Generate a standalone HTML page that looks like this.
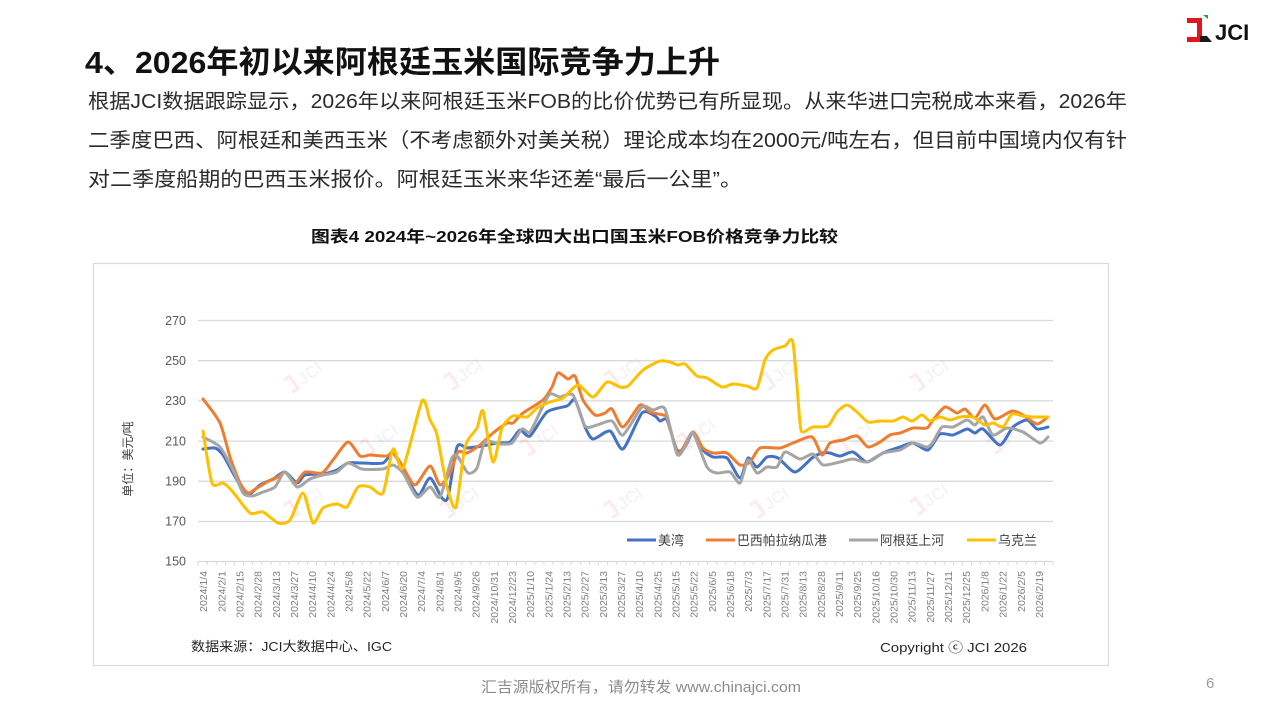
<!DOCTYPE html>
<html>
<head>
<meta charset="utf-8">
<style>
  html,body{margin:0;padding:0;background:#fff;}
  svg{display:block;}
  .cjk{font-family:"Liberation Sans","Noto Sans CJK SC",sans-serif;}
</style>
</head>
<body>
<svg id="chart" width="1280" height="720" viewBox="0 0 1280 720" xmlns="http://www.w3.org/2000/svg">
  <rect width="1280" height="720" fill="#fff"/>

  <!-- Logo -->
  <g>
    <path d="M1187,18 h15 v24 h-15 v-5 h10 v-14 h-10 z" fill="#e3161c"/>
    <path d="M1203,15 l5,0 l0,4 z" fill="#2e9b47"/>
    <path d="M1200,42 l12,0 l-5,-6 l-7,0 z" fill="#1a1a1a"/>
    <text x="1215" y="40" font-family="Liberation Sans, sans-serif" font-weight="bold" font-size="22" fill="#111">JCI</text>
  </g>

  <!-- Title -->
  <text class="cjk" x="85" y="73" font-size="31" font-weight="bold" fill="#111" textLength="635" lengthAdjust="spacingAndGlyphs">4、2026年初以来阿根廷玉米国际竞争力上升</text>

  <!-- Paragraph -->
  <g class="cjk" font-size="20" fill="#2b2b2b">
    <text x="88" y="108" textLength="1039" lengthAdjust="spacingAndGlyphs">根据JCI数据跟踪显示，2026年以来阿根廷玉米FOB的比价优势已有所显现。从来华进口完税成本来看，2026年</text>
    <text x="88" y="147" textLength="1039" lengthAdjust="spacingAndGlyphs">二季度巴西、阿根廷和美西玉米（不考虑额外对美关税）理论成本均在2000元/吨左右，但目前中国境内仅有针</text>
    <text x="88" y="186" textLength="654" lengthAdjust="spacingAndGlyphs">对二季度船期的巴西玉米报价。阿根廷玉米来华还差“最后一公里”。</text>
  </g>

  <!-- Chart title -->
  <text class="cjk" x="311" y="242" font-size="16" font-weight="bold" fill="#111" textLength="527" lengthAdjust="spacingAndGlyphs">图表4  2024年~2026年全球四大出口国玉米FOB价格竞争力比较</text>

  <!-- Chart box -->
  <rect x="93.5" y="263.5" width="1015" height="402" fill="#fff" stroke="#d9d9d9" stroke-width="1.2"/>

  <!-- Gridlines -->
  <g stroke="#d9d9d9" stroke-width="1.3">
    <line x1="198" y1="320.5" x2="1053" y2="320.5"/>
    <line x1="198" y1="360.7" x2="1053" y2="360.7"/>
    <line x1="198" y1="400.9" x2="1053" y2="400.9"/>
    <line x1="198" y1="441.1" x2="1053" y2="441.1"/>
    <line x1="198" y1="481.3" x2="1053" y2="481.3"/>
    <line x1="198" y1="521.5" x2="1053" y2="521.5"/>
    <line x1="198" y1="561.5" x2="1053" y2="561.5"/>
  </g>
  <!-- ticks -->
  <g stroke="#d9d9d9" stroke-width="1">
    <path d="M198,561 v5 M207.2,561 v4 M216.3,561 v4 M225.4,561 v4 M234.5,561 v4 M243.6,561 v4 M252.7,561 v4 M261.8,561 v4 M270.9,561 v4 M280,561 v4 M289.1,561 v4 M298.2,561 v4 M307.3,561 v4 M316.4,561 v4 M325.5,561 v4 M334.6,561 v4 M343.7,561 v4 M352.8,561 v4 M361.9,561 v4 M371,561 v4 M380.1,561 v4 M389.2,561 v4 M398.3,561 v4 M407.4,561 v4 M416.5,561 v4 M425.6,561 v4 M434.7,561 v4 M443.8,561 v4 M452.9,561 v4 M462,561 v4 M471.1,561 v4 M480.2,561 v4 M489.3,561 v4 M498.4,561 v4 M507.5,561 v4 M516.6,561 v4 M525.7,561 v4 M534.8,561 v4 M543.9,561 v4 M553,561 v4 M562.1,561 v4 M571.2,561 v4 M580.3,561 v4 M589.4,561 v4 M598.5,561 v4 M607.6,561 v4 M616.7,561 v4 M625.8,561 v4 M634.9,561 v4 M644,561 v4 M653.1,561 v4 M662.2,561 v4 M671.3,561 v4 M680.4,561 v4 M689.5,561 v4 M698.6,561 v4 M707.7,561 v4 M716.8,561 v4 M725.9,561 v4 M735,561 v4 M744.1,561 v4 M753.2,561 v4 M762.3,561 v4 M771.4,561 v4 M780.5,561 v4 M789.6,561 v4 M798.7,561 v4 M807.8,561 v4 M816.9,561 v4 M826,561 v4 M835.1,561 v4 M844.2,561 v4 M853.3,561 v4 M862.4,561 v4 M871.5,561 v4 M880.6,561 v4 M889.7,561 v4 M898.8,561 v4 M907.9,561 v4 M917,561 v4 M926.1,561 v4 M935.2,561 v4 M944.3,561 v4 M953.4,561 v4 M962.5,561 v4 M971.6,561 v4 M980.7,561 v4 M989.8,561 v4 M998.9,561 v4 M1008,561 v4 M1017.1,561 v4 M1026.2,561 v4 M1035.3,561 v4 M1044.4,561 v4 M1053,561 v4"/>
  </g>

  <!-- Watermarks -->
  <g opacity="0.09" font-family="Liberation Sans, sans-serif" font-weight="bold" font-size="17" fill="#888">
    <g transform="translate(307,375) rotate(-35)"><path d="M-22,-9 h7 v15 h-7" stroke="#e3161c" stroke-width="3" fill="none"/><text x="-10" y="6">JCI</text></g>
    <g transform="translate(467,372) rotate(-35)"><path d="M-22,-9 h7 v15 h-7" stroke="#e3161c" stroke-width="3" fill="none"/><text x="-10" y="6">JCI</text></g>
    <g transform="translate(627,370) rotate(-35)"><path d="M-22,-9 h7 v15 h-7" stroke="#e3161c" stroke-width="3" fill="none"/><text x="-10" y="6">JCI</text></g>
    <g transform="translate(783,372) rotate(-35)"><path d="M-22,-9 h7 v15 h-7" stroke="#e3161c" stroke-width="3" fill="none"/><text x="-10" y="6">JCI</text></g>
    <g transform="translate(933,373) rotate(-35)"><path d="M-22,-9 h7 v15 h-7" stroke="#e3161c" stroke-width="3" fill="none"/><text x="-10" y="6">JCI</text></g>
    <g transform="translate(383,438) rotate(-35)"><path d="M-22,-9 h7 v15 h-7" stroke="#e3161c" stroke-width="3" fill="none"/><text x="-10" y="6">JCI</text></g>
    <g transform="translate(543,438) rotate(-35)"><path d="M-22,-9 h7 v15 h-7" stroke="#e3161c" stroke-width="3" fill="none"/><text x="-10" y="6">JCI</text></g>
    <g transform="translate(700,432) rotate(-35)"><path d="M-22,-9 h7 v15 h-7" stroke="#e3161c" stroke-width="3" fill="none"/><text x="-10" y="6">JCI</text></g>
    <g transform="translate(857,436) rotate(-35)"><path d="M-22,-9 h7 v15 h-7" stroke="#e3161c" stroke-width="3" fill="none"/><text x="-10" y="6">JCI</text></g>
    <g transform="translate(1010,436) rotate(-35)"><path d="M-22,-9 h7 v15 h-7" stroke="#e3161c" stroke-width="3" fill="none"/><text x="-10" y="6">JCI</text></g>
    <g transform="translate(307,500) rotate(-35)"><path d="M-22,-9 h7 v15 h-7" stroke="#e3161c" stroke-width="3" fill="none"/><text x="-10" y="6">JCI</text></g>
    <g transform="translate(463,500) rotate(-35)"><path d="M-22,-9 h7 v15 h-7" stroke="#e3161c" stroke-width="3" fill="none"/><text x="-10" y="6">JCI</text></g>
    <g transform="translate(627,500) rotate(-35)"><path d="M-22,-9 h7 v15 h-7" stroke="#e3161c" stroke-width="3" fill="none"/><text x="-10" y="6">JCI</text></g>
    <g transform="translate(773,500) rotate(-35)"><path d="M-22,-9 h7 v15 h-7" stroke="#e3161c" stroke-width="3" fill="none"/><text x="-10" y="6">JCI</text></g>
    <g transform="translate(933,497) rotate(-35)"><path d="M-22,-9 h7 v15 h-7" stroke="#e3161c" stroke-width="3" fill="none"/><text x="-10" y="6">JCI</text></g>
  </g>

  <!-- Y labels -->
  <g font-family="Liberation Sans, sans-serif" font-size="12.5" fill="#595959" text-anchor="end">
    <text x="186" y="325">270</text>
    <text x="186" y="365">250</text>
    <text x="186" y="405">230</text>
    <text x="186" y="445.5">210</text>
    <text x="186" y="485.5">190</text>
    <text x="186" y="525.5">170</text>
    <text x="186" y="565.5">150</text>
  </g>
  <!-- Y axis title -->
  <text class="cjk" transform="translate(132,459) rotate(-90)" text-anchor="middle" font-size="12" fill="#404040">单位：美元/吨</text>

  <!-- X labels -->
  <g font-family="Liberation Sans, sans-serif" font-size="10.5" fill="#808080" text-anchor="end">
    <text transform="translate(207.1,571) rotate(-90)">2024/1/4</text>
    <text transform="translate(225.3,571) rotate(-90)">2024/2/1</text>
    <text transform="translate(243.4,571) rotate(-90)">2024/2/15</text>
    <text transform="translate(261.6,571) rotate(-90)">2024/2/28</text>
    <text transform="translate(279.8,571) rotate(-90)">2024/3/13</text>
    <text transform="translate(298.0,571) rotate(-90)">2024/3/27</text>
    <text transform="translate(316.1,571) rotate(-90)">2024/4/10</text>
    <text transform="translate(334.3,571) rotate(-90)">2024/4/24</text>
    <text transform="translate(352.5,571) rotate(-90)">2024/5/8</text>
    <text transform="translate(370.6,571) rotate(-90)">2024/5/22</text>
    <text transform="translate(388.8,571) rotate(-90)">2024/6/7</text>
    <text transform="translate(407.0,571) rotate(-90)">2024/6/20</text>
    <text transform="translate(425.1,571) rotate(-90)">2024/7/4</text>
    <text transform="translate(443.3,571) rotate(-90)">2024/8/1</text>
    <text transform="translate(461.5,571) rotate(-90)">2024/9/5</text>
    <text transform="translate(479.7,571) rotate(-90)">2024/9/26</text>
    <text transform="translate(497.8,571) rotate(-90)">2024/10/31</text>
    <text transform="translate(516.0,571) rotate(-90)">2024/12/23</text>
    <text transform="translate(534.2,571) rotate(-90)">2025/1/10</text>
    <text transform="translate(552.3,571) rotate(-90)">2025/1/24</text>
    <text transform="translate(570.5,571) rotate(-90)">2025/2/13</text>
    <text transform="translate(588.7,571) rotate(-90)">2025/2/27</text>
    <text transform="translate(606.8,571) rotate(-90)">2025/3/13</text>
    <text transform="translate(625.0,571) rotate(-90)">2025/3/27</text>
    <text transform="translate(643.2,571) rotate(-90)">2025/4/10</text>
    <text transform="translate(661.4,571) rotate(-90)">2025/4/25</text>
    <text transform="translate(679.5,571) rotate(-90)">2025/5/15</text>
    <text transform="translate(697.7,571) rotate(-90)">2025/5/22</text>
    <text transform="translate(715.9,571) rotate(-90)">2025/6/5</text>
    <text transform="translate(734.0,571) rotate(-90)">2025/6/18</text>
    <text transform="translate(752.2,571) rotate(-90)">2025/7/3</text>
    <text transform="translate(770.4,571) rotate(-90)">2025/7/17</text>
    <text transform="translate(788.5,571) rotate(-90)">2025/7/31</text>
    <text transform="translate(806.7,571) rotate(-90)">2025/8/13</text>
    <text transform="translate(824.9,571) rotate(-90)">2025/8/28</text>
    <text transform="translate(843.1,571) rotate(-90)">2025/9/11</text>
    <text transform="translate(861.2,571) rotate(-90)">2025/9/25</text>
    <text transform="translate(879.4,571) rotate(-90)">2025/10/16</text>
    <text transform="translate(897.6,571) rotate(-90)">2025/10/30</text>
    <text transform="translate(915.7,571) rotate(-90)">2025/11/13</text>
    <text transform="translate(933.9,571) rotate(-90)">2025/11/27</text>
    <text transform="translate(952.1,571) rotate(-90)">2025/12/11</text>
    <text transform="translate(970.2,571) rotate(-90)">2025/12/25</text>
    <text transform="translate(988.4,571) rotate(-90)">2026/1/8</text>
    <text transform="translate(1006.6,571) rotate(-90)">2026/1/22</text>
    <text transform="translate(1024.8,571) rotate(-90)">2026/2/5</text>
    <text transform="translate(1042.9,571) rotate(-90)">2026/2/19</text>
  </g>

  <!-- Series -->
  <g id="series" fill="none" stroke-width="3" stroke-linejoin="round" stroke-linecap="round">
    <polyline stroke="#4472C4" points="203,449 215,448 223,455 233,473 243,490 250,494 260,485 273,479 285,472 297,483 305,475 323,474 337,470 348,463 363,463 383,463 393,453 403,470 418,495 430,478 442,498 448,497 457,447 467,448 482,446 497,443 510,442 520,430 530,436 547,412 567,406 575,400 585,427 593,439 610,431 623,449 642,413 655,416 660,421 667,420 677,450 685,447 693,433 703,450 713,457 727,458 740,478 748,458 757,467 767,457 778,458 795,472 812,458 822,453 830,453 840,456 853,452 867,462 883,453 900,447 913,443 928,450 940,434 953,435 967,429 975,433 983,429 1000,445 1013,427 1027,420 1037,429 1048,427"/>
    <polyline stroke="#ED7D31" points="203,399 220,423 230,457 240,483 248,493 257,488 267,482 278,477 285,472 295,483 305,472 322,473 333,460 348,442 360,456 370,455 387,456 393,452 403,467 415,485 430,466 440,485 450,473 458,452 467,453 480,445 493,433 507,423 513,423 523,413 543,400 552,387 558,373 568,379 575,376 583,400 595,415 605,413 612,409 623,427 640,405 650,412 663,415 667,418 677,452 683,448 693,432 703,448 713,453 727,453 740,465 750,462 760,448 780,448 793,443 812,437 822,455 830,443 843,440 857,436 868,447 880,442 890,435 900,433 913,428 927,428 933,420 945,407 957,413 965,409 975,418 985,405 995,419 1012,411 1023,415 1037,424 1048,417"/>
    <polyline stroke="#A5A5A5" points="203,437 220,447 233,470 243,493 252,496 263,492 275,487 285,472 297,487 310,479 323,475 337,472 348,463 362,469 383,469 393,465 403,473 417,497 430,487 440,497 452,458 458,457 468,473 477,468 485,442 500,444 512,443 522,429 530,432 542,408 550,394 560,397 573,395 585,426 597,425 612,421 623,435 642,407 653,410 665,409 677,454 685,447 693,433 707,467 717,473 730,472 740,483 748,460 757,473 767,467 777,467 785,452 800,459 813,454 823,465 840,462 853,459 867,462 883,453 900,450 913,443 927,447 933,442 942,427 953,427 967,420 975,425 983,417 993,435 1007,428 1023,432 1040,443 1048,437"/>
    <polyline stroke="#FFC000" points="203,431 212,483 223,483 233,492 250,513 263,512 278,523 290,520 303,493 313,523 323,508 337,504 347,507 358,487 370,487 383,493 393,449 403,468 422,401 430,420 437,435 447,487 456,507 465,447 477,428 483,411 493,462 502,428 513,416 527,417 537,408 550,402 563,398 578,385 593,397 607,382 620,387 628,386 643,370 660,361 670,362 678,365 685,364 697,376 707,378 722,387 733,384 747,386 757,388 765,360 773,350 785,346 793,343 800,423 803,432 813,427 828,426 837,412 847,405 857,412 868,422 880,421 893,421 903,417 912,421 922,415 930,421 940,417 950,420 960,417 973,417 985,425 993,423 1003,427 1012,414 1023,416 1033,417 1048,417"/>
  </g>

  <!-- Legend -->
  <g stroke-width="3">
    <line x1="627" y1="540" x2="656" y2="540" stroke="#4472C4"/>
    <line x1="706" y1="540" x2="735" y2="540" stroke="#ED7D31"/>
    <line x1="849" y1="540" x2="878" y2="540" stroke="#A5A5A5"/>
    <line x1="967" y1="540" x2="996" y2="540" stroke="#FFC000"/>
  </g>
  <g class="cjk" font-size="13" fill="#404040">
    <text x="658" y="545" textLength="26" lengthAdjust="spacingAndGlyphs">美湾</text>
    <text x="737" y="545" textLength="90" lengthAdjust="spacingAndGlyphs">巴西帕拉纳瓜港</text>
    <text x="880" y="545" textLength="64" lengthAdjust="spacingAndGlyphs">阿根廷上河</text>
    <text x="998" y="545" textLength="39" lengthAdjust="spacingAndGlyphs">乌克兰</text>
  </g>

  <!-- Source & copyright -->
  <text class="cjk" x="191" y="651" font-size="13" fill="#262626" textLength="201" lengthAdjust="spacingAndGlyphs">数据来源：JCI大数据中心、IGC</text>
  <text class="cjk" x="880" y="652" font-size="13" fill="#262626" textLength="147" lengthAdjust="spacingAndGlyphs">Copyright ⓒ JCI 2026</text>

  <!-- Footer -->
  <text class="cjk" x="481" y="692" font-size="15" fill="#8c8c8c" textLength="320" lengthAdjust="spacingAndGlyphs">汇吉源版权所有，请勿转发 www.chinajci.com</text>
  <text x="1206" y="688" font-family="Liberation Sans, sans-serif" font-size="15" fill="#9a9a9a">6</text>
</svg>
<script>
(function(){
  try{
    var NS="http://www.w3.org/2000/svg";
    var g=document.getElementById("series");
    var pls=g.querySelectorAll("polyline");
    for(var k=0;k<pls.length;k++){
      var pl=pls[k];
      var raw=pl.getAttribute("points").trim().split(/\s+/);
      var p=raw.map(function(s){var a=s.split(",");return [parseFloat(a[0]),parseFloat(a[1])];});
      var d="M"+p[0][0]+","+p[0][1];
      var t=0.12;
      for(var i=0;i<p.length-1;i++){
        var p0=p[i>0?i-1:i],p1=p[i],p2=p[i+1],p3=p[i+2<p.length?i+2:i+1];
        var c1x=p1[0]+(p2[0]-p0[0])*t,c1y=p1[1]+(p2[1]-p0[1])*t;
        var c2x=p2[0]-(p3[0]-p1[0])*t,c2y=p2[1]-(p3[1]-p1[1])*t;
        d+=" C"+c1x.toFixed(1)+","+c1y.toFixed(1)+" "+c2x.toFixed(1)+","+c2y.toFixed(1)+" "+p2[0]+","+p2[1];
      }
      var path=document.createElementNS(NS,"path");
      path.setAttribute("d",d);
      path.setAttribute("stroke",pl.getAttribute("stroke"));
      g.replaceChild(path,pl);
    }
  }catch(e){}
})();
</script>
</body>
</html>
